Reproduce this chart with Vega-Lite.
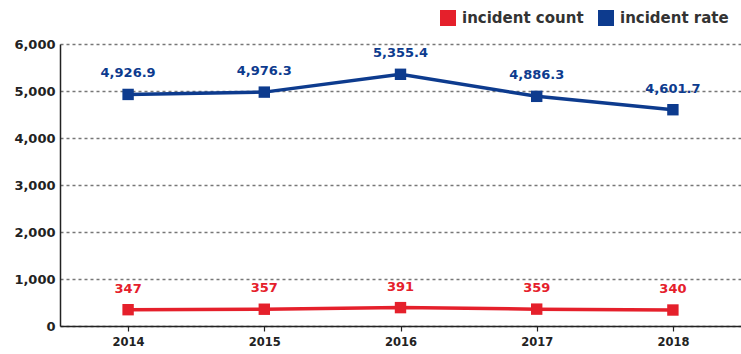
{
  "$schema": "https://vega.github.io/schema/vega-lite/v6.json",
  "width": 681,
  "height": 282,
  "autosize": "none",
  "padding": {"left": 60, "top": 44, "right": 0, "bottom": 28},
  "background": "white",
  "config": {
    "view": {"stroke": null},
    "font": "DejaVu Sans"
  },
  "data": {
    "values": [
      {"year": "2014", "series": "incident count", "value": 347},
      {"year": "2015", "series": "incident count", "value": 357},
      {"year": "2016", "series": "incident count", "value": 391},
      {"year": "2017", "series": "incident count", "value": 359},
      {"year": "2018", "series": "incident count", "value": 340},
      {"year": "2014", "series": "incident rate", "value": 4926.9},
      {"year": "2015", "series": "incident rate", "value": 4976.3},
      {"year": "2016", "series": "incident rate", "value": 5355.4},
      {"year": "2017", "series": "incident rate", "value": 4886.3},
      {"year": "2018", "series": "incident rate", "value": 4601.7}
    ]
  },
  "encoding": {
    "x": {
      "field": "year", "type": "ordinal",
      "scale": {"type": "point", "padding": 0.5},
      "axis": {
        "title": null, "labelAngle": 0, "labelFontWeight": "bold", "labelFontSize": 11.5,
        "labelColor": "#222", "domainColor": "#222", "domainWidth": 1.5,
        "tickColor": "#222", "tickSize": 5, "tickWidth": 1.2, "labelPadding": 5
      }
    },
    "y": {
      "field": "value", "type": "quantitative",
      "scale": {"domain": [0, 6000], "nice": false},
      "axis": {
        "title": null, "values": [0, 1000, 2000, 3000, 4000, 5000, 6000], "format": ",d",
        "labelFontWeight": "bold", "labelFontSize": 13, "labelColor": "#222",
        "domainColor": "#222", "domainWidth": 1.5, "ticks": false, "labelPadding": 5,
        "gridColor": "#777", "gridDash": [3, 3], "gridWidth": 1.3
      }
    },
    "color": {
      "field": "series", "type": "nominal",
      "scale": {"domain": ["incident count", "incident rate"], "range": ["#e5202b", "#0d3b8e"]},
      "legend": {
        "title": null, "orient": "none", "legendX": 380, "legendY": -34,
        "direction": "horizontal", "symbolType": "square", "symbolSize": 256,
        "symbolOpacity": 1, "labelFontSize": 15, "labelFontWeight": "bold",
        "labelColor": "#333", "columnPadding": 14, "symbolStrokeWidth": 0, "labelOffset": 6
      }
    }
  },
  "layer": [
    {"mark": {"type": "line", "strokeWidth": 3.5}},
    {"mark": {"type": "point", "shape": "square", "filled": true, "size": 130, "opacity": 1}},
    {
      "transform": [{"filter": "datum.series === 'incident rate'"}],
      "mark": {"type": "text", "dy": -21, "fontWeight": "bold", "fontSize": 13},
      "encoding": {"text": {"field": "value", "type": "quantitative", "format": ",.1f"}}
    },
    {
      "transform": [{"filter": "datum.series === 'incident count'"}],
      "mark": {"type": "text", "dy": -21, "fontWeight": "bold", "fontSize": 13},
      "encoding": {"text": {"field": "value", "type": "quantitative", "format": ",d"}}
    }
  ]
}
